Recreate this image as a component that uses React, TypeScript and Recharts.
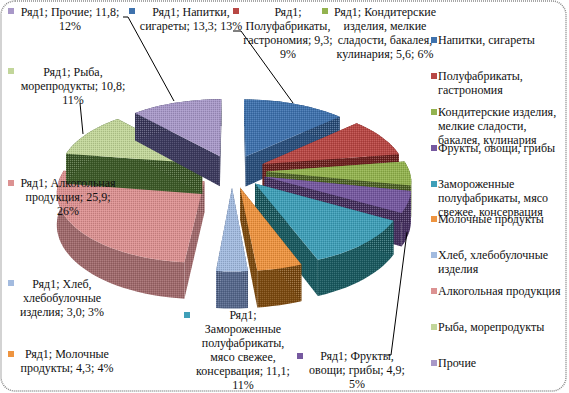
import React from "react";
import { PieChart, Pie, Legend, Customized } from "recharts";

const seriesName = "Ряд1";
const categories = [
  "Напитки, сигареты",
  "Полуфабрикаты, гастрономия",
  "Кондитерские изделия, мелкие сладости, бакалея, кулинария",
  "Фрукты, овощи, грибы",
  "Замороженные полуфабрикаты, мясо свежее, консервация",
  "Молочные продукты",
  "Хлеб, хлебобулочные изделия",
  "Алкогольная продукция",
  "Рыба, морепродукты",
  "Прочие",
];
const values = [13.3, 9.3, 5.6, 4.9, 11.1, 4.3, 3.0, 25.9, 10.8, 11.8];

const topColors = ["#3f72ad", "#b84744", "#93b34f", "#7659a0", "#3f9fb8", "#ee9440", "#a3bbdf", "#dc9292", "#c2d69a", "#a898c8"];
const wallColors = ["#2a4f7c", "#6e2220", "#4f6426", "#45305f", "#1a5a60", "#7c4a10", "#56688c", "#a06a6c", "#3c5a28", "#3c3a5e"];

const data = categories.map((name, i) => ({
  name,
  value: values[i],
  fill: topColors[i],
  wall: wallColors[i],
}));

// label text lines, wrapped as in the picture
const labelLines = [
  [`${seriesName}; Напитки,`, "сигареты; 13,3; 13%"],
  [`${seriesName};`, "Полуфабрикаты,", "гастрономия; 9,3;", "9%"],
  [`${seriesName}; Кондитерские`, "изделия, мелкие", "сладости, бакалея,", "кулинария; 5,6; 6%"],
  [`${seriesName}; Фрукты,`, "овощи; грибы; 4,9;", "5%"],
  [`${seriesName};`, "Замороженные", "полуфабрикаты,", "мясо свежее,", "консервация; 11,1;", "11%"],
  [`${seriesName}; Молочные`, "продукты; 4,3; 4%"],
  [`${seriesName}; Хлеб,`, "хлебобулочные", "изделия; 3,0; 3%"],
  [`${seriesName}; Алкогольная`, "продукция; 25,9;", "26%"],
  [`${seriesName}; Рыба,`, "морепродукты; 10,8;", "11%"],
  [`${seriesName}; Прочие; 11,8;`, "12%"],
];

// layout of labels: text centre x, first baseline y, marker x,y, leader polyline
const labelLayout: { x: number; y: number; mx: number; my: number; leader?: string }[] = [
  { x: 191, y: 16, mx: 129, my: 8, leader: "233,31 241,31 293,103" },
  { x: 288, y: 16, mx: 233, my: 8 },
  { x: 385, y: 16, mx: 322, my: 8 },
  { x: 357, y: 360, mx: 297, my: 353, leader: "385,355 391,355 407,232" },
  { x: 243, y: 319, mx: 184, my: 312 },
  { x: 67, y: 358, mx: 8, my: 351 },
  { x: 62, y: 288, mx: 8, my: 280 },
  { x: 68, y: 187, mx: 8, my: 180 },
  { x: 73, y: 76, mx: 8, my: 68, leader: "80,103 83,134" },
  { x: 70, y: 16, mx: 8, my: 8, leader: "123,17 128,17 174,101" },
];

const RY = 68;
const PERSP = 0.13;
const EXPLODE = 0.24;
const DEPTH = 31;

function Slice3D(props: any) {
  const { cx, cy, outerRadius, startAngle, endAngle, fill, payload } = props;
  const rx = outerRadius;
  const t0 = ((90 - startAngle) * Math.PI) / 180;
  const t1 = ((90 - endAngle) * Math.PI) / 180;
  const mid = (t0 + t1) / 2;
  const ox = Math.sin(mid) * EXPLODE;
  const oy = -Math.cos(mid) * EXPLODE;
  const project = (x: number, y: number, z: number) => {
    const w = 1 - PERSP * y;
    return [cx + (rx * x) / w, cy + (RY * y) / w + (z * DEPTH) / w];
  };
  const pt = (t: number, r: number, z: number) =>
    project(ox + r * Math.sin(t), oy - r * Math.cos(t), z);
  const steps = Math.max(4, Math.ceil(Math.abs(t1 - t0) / 0.05));
  const angles = Array.from({ length: steps + 1 }, (_, i) => t0 + ((t1 - t0) * i) / steps);
  const d = (pts: number[][]) =>
    "M" + pts.map((p) => `${p[0].toFixed(1)},${p[1].toFixed(1)}`).join("L") + "Z";
  const apexT = pt(t0, 0, 0);
  const apexB = pt(t0, 0, 1);
  const rimT = angles.map((t) => pt(t, 1, 0));
  const rimB = angles.map((t) => pt(t, 1, 1));
  const wall = payload?.wall ?? props.wall;
  const faces = [
    d([apexT, rimT[0], rimB[0], apexB]),
    d([apexT, rimT[steps], rimB[steps], apexB]),
    d([...rimT, ...[...rimB].reverse()]),
  ];
  const top = d([apexT, ...rimT]);
  return (
    <g>
      {faces.map((f, i) => (
        <path key={i} d={f} fill={wall} />
      ))}
      {faces.map((f, i) => (
        <path key={`o${i}`} d={f} fill="url(#dither)" />
      ))}
      <path d={top} fill={fill} />
      <path d={top} fill="url(#dither)" />
    </g>
  );
}

const serif = "'Liberation Serif', 'Times New Roman', serif";

function renderLabel(props: any) {
  const i = props.index;
  const l = labelLayout[i];
  return (
    <g key={i}>
      {l.leader && <polyline points={l.leader} fill="none" stroke="#000" strokeWidth={1} />}
      <rect x={l.mx} y={l.my} width={6} height={6} fill={topColors[i]} />
      <text x={l.x} y={l.y} textAnchor="middle" fontFamily={serif} fontSize={12} fill="#111">
        {labelLines[i].map((s, k) => (
          <tspan key={k} x={l.x} y={l.y + k * 14}>
            {s}
          </tspan>
        ))}
      </text>
    </g>
  );
}

function LegendContent(props: any) {
  return (
    <div style={{ position: "relative", width: 135, fontFamily: serif, fontSize: 12, lineHeight: "14px", color: "#111" }}>
      {(props.payload ?? []).map((e: any, i: number) => (
        <div key={i} style={{ position: "relative", height: 35.9, paddingLeft: 7 }}>
          <span style={{ position: "absolute", left: 0, top: 4, width: 6, height: 6, background: topColors[i] }} />
          {e.value}
        </div>
      ))}
    </div>
  );
}

const Frame = () => (
  <g>
    <defs>
      <pattern id="dither" width={2} height={2} patternUnits="userSpaceOnUse">
        <rect x={0} y={0} width={1} height={1} fill="#fff" fillOpacity={0.14} />
        <rect x={1} y={1} width={1} height={1} fill="#000" fillOpacity={0.14} />
      </pattern>
    </defs>
    <rect x={1} y={1} width={565} height={390} rx={14} fill="none" stroke="#8a8a8a" strokeWidth={1.5} strokeDasharray="1 1" />
  </g>
);

export default function App() {
  return (
    <div style={{ position: "absolute", left: 0, top: 0, width: 569, height: 393, background: "#fff" }}>
      <PieChart width={569} height={393} margin={{ top: 0, right: 0, bottom: 0, left: 0 }}>
        <Customized component={Frame} />
        <Pie
          data={data}
          dataKey="value"
          nameKey="name"
          cx={232}
          cy={171}
          outerRadius={143}
          startAngle={90}
          endAngle={-270}
          stroke="none"
          shape={Slice3D}
          label={renderLabel}
          labelLine={false}
          isAnimationActive={false}
        />
        <Legend
          layout="vertical"
          align="right"
          verticalAlign="top"
          itemSorter={null}
          content={LegendContent}
          wrapperStyle={{ position: "absolute", left: 431, top: 33, width: 135 }}
        />
      </PieChart>
    </div>
  );
}
